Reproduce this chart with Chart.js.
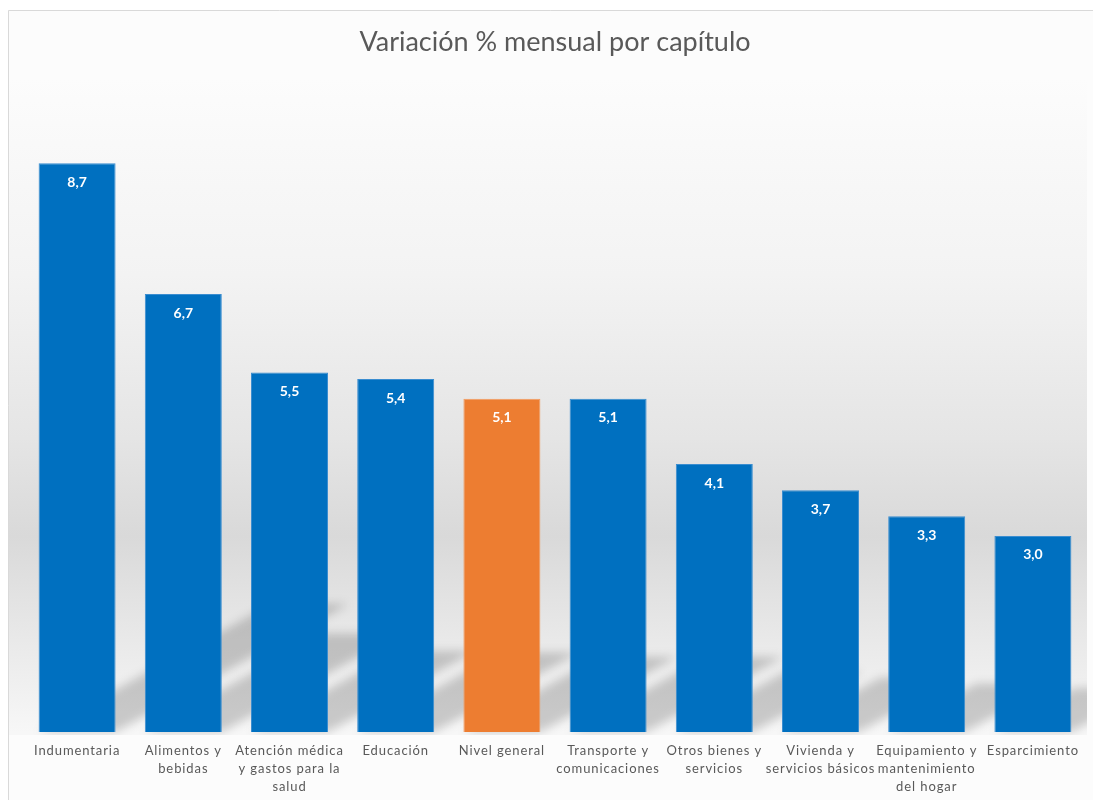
<!DOCTYPE html>
<html>
<head>
<meta charset="utf-8">
<script src="https://cdn.jsdelivr.net/npm/chart.js@4.4.0/dist/chart.umd.min.js"></script>
<style>
  html, body { margin: 0; padding: 0; background: #ffffff; }
  canvas { display: block; }
</style>
</head>
<body>
<canvas id="bar-chart" width="1093" height="800"></canvas>
<script>
// Chart data
const titulo = "Variación % mensual por capítulo";
const capitulos = [
  "Indumentaria",
  ["Alimentos y", "bebidas"],
  ["Atención médica", "y gastos para la", "salud"],
  "Educación",
  "Nivel general",
  ["Transporte y", "comunicaciones"],
  ["Otros bienes y", "servicios"],
  ["Vivienda y", "servicios básicos"],
  ["Equipamiento y", "mantenimiento", "del hogar"],
  "Esparcimiento",
];
const variaciones = [8.7, 6.7, 5.5, 5.4, 5.1, 5.1, 4.1, 3.7, 3.3, 3.0];
const destacado = "Nivel general";

const AZUL = "#0070c0";
const NARANJA = "#ed7d31";

const colores = capitulos.map((c) => (c === destacado ? NARANJA : AZUL));
const bordes = capitulos.map((c) => (c === destacado ? "#f39a5c" : "#3a8dd0"));

// background panel + frame line
const fondo = {
  id: "fondo",
  beforeDraw(chart) {
    const { ctx, chartArea, width, height } = chart;
    ctx.save();
    ctx.fillStyle = "#ffffff";
    ctx.fillRect(0, 0, width, height);
    ctx.fillStyle = "#fcfcfc";
    ctx.fillRect(8, 10, width, height);
    const g = ctx.createLinearGradient(0, chartArea.top, 0, chartArea.bottom);
    g.addColorStop(0, "#fcfcfc");
    g.addColorStop(0.3, "#f3f3f3");
    g.addColorStop(0.55, "#e5e5e5");
    g.addColorStop(0.7, "#d9d9d9");
    g.addColorStop(0.85, "#e8e8e8");
    g.addColorStop(1, "#f7f7f7");
    ctx.fillStyle = g;
    ctx.fillRect(9, chartArea.top, chartArea.right + 1 - 9, chartArea.bottom + 3 - chartArea.top);
    ctx.strokeStyle = "#d9d9d9";
    ctx.lineWidth = 1;
    ctx.beginPath();
    ctx.moveTo(8.5, height);
    ctx.lineTo(8.5, 10.5);
    ctx.lineTo(width, 10.5);
    ctx.stroke();
    ctx.restore();
  },
};

// perspective shadow behind every bar
const sombras = {
  id: "sombras",
  beforeDatasetsDraw(chart) {
    const { ctx, chartArea } = chart;
    const meta = chart.getDatasetMeta(0);
    ctx.save();
    ctx.beginPath();
    ctx.rect(9, chartArea.top, chartArea.right + 1 - 9, chartArea.bottom + 3 - chartArea.top);
    ctx.clip();
    ctx.filter = "blur(5px)";
    ctx.fillStyle = "rgba(0,0,0,0.18)";
    meta.data.forEach((bar) => {
      const { x, y, base, width } = bar.getProps(["x", "y", "base", "width"], true);
      const h = (base - y) * 0.225;
      const dx = h / 0.55;
      const l = x - width / 2;
      const r = x + width / 2;
      ctx.beginPath();
      ctx.moveTo(l, base);
      ctx.lineTo(r, base);
      ctx.lineTo(r + dx, base - h);
      ctx.lineTo(l + dx, base - h);
      ctx.closePath();
      ctx.fill();
    });
    ctx.restore();
  },
};

// white value labels inside the bars
const etiquetas = {
  id: "etiquetas",
  afterDatasetsDraw(chart) {
    const { ctx } = chart;
    const meta = chart.getDatasetMeta(0);
    ctx.save();
    ctx.fillStyle = "#ffffff";
    ctx.font = "bold 14px Lato";
    ctx.textAlign = "center";
    ctx.textBaseline = "middle";
    meta.data.forEach((bar, i) => {
      ctx.fillText(variaciones[i].toFixed(1).replace(".", ","), bar.x, bar.y + 19);
    });
    ctx.restore();
  },
};

// wider spacing for the category labels
const espaciado = {
  id: "espaciado",
  beforeDraw(chart) {
    const sc = chart.scales.x;
    if (sc && !sc._espaciado) {
      const orig = sc.drawLabels;
      sc.drawLabels = function (area) {
        this.ctx.save();
        this.ctx.letterSpacing = "0.9px";
        orig.call(this, area);
        this.ctx.restore();
      };
      sc._espaciado = true;
    }
  },
};

const ctx = document.getElementById("bar-chart");

new Chart(ctx, {
  type: "bar",
  data: {
    labels: capitulos,
    datasets: [
      {
        label: titulo,
        data: variaciones,
        backgroundColor: colores,
        borderColor: bordes,
        borderWidth: 1,
        categoryPercentage: 1,
        barPercentage: 0.725,
      },
    ],
  },
  options: {
    responsive: false,
    animation: false,
    events: [],
    layout: {
      padding: { left: 24, right: 7, top: 0, bottom: 0 },
    },
    plugins: {
      legend: { display: false },
      tooltip: { enabled: false },
      title: {
        display: true,
        text: titulo,
        color: "#595959",
        font: { family: "Lato", size: 27, weight: "normal", lineHeight: 1.2 },
        padding: { top: 26, bottom: 20 },
      },
    },
    scales: {
      y: {
        display: false,
        min: 0,
        max: 10,
      },
      x: {
        grid: { display: false },
        border: { display: false },
        afterFit: (scale) => {
          scale.height = 68;
        },
        ticks: {
          color: "#595959",
          font: { family: "Lato", size: 13, lineHeight: 1.38 },
          padding: 2,
          maxRotation: 0,
          autoSkip: false,
        },
      },
    },
  },
  plugins: [fondo, sombras, etiquetas, espaciado],
});
</script>
</body>
</html>
